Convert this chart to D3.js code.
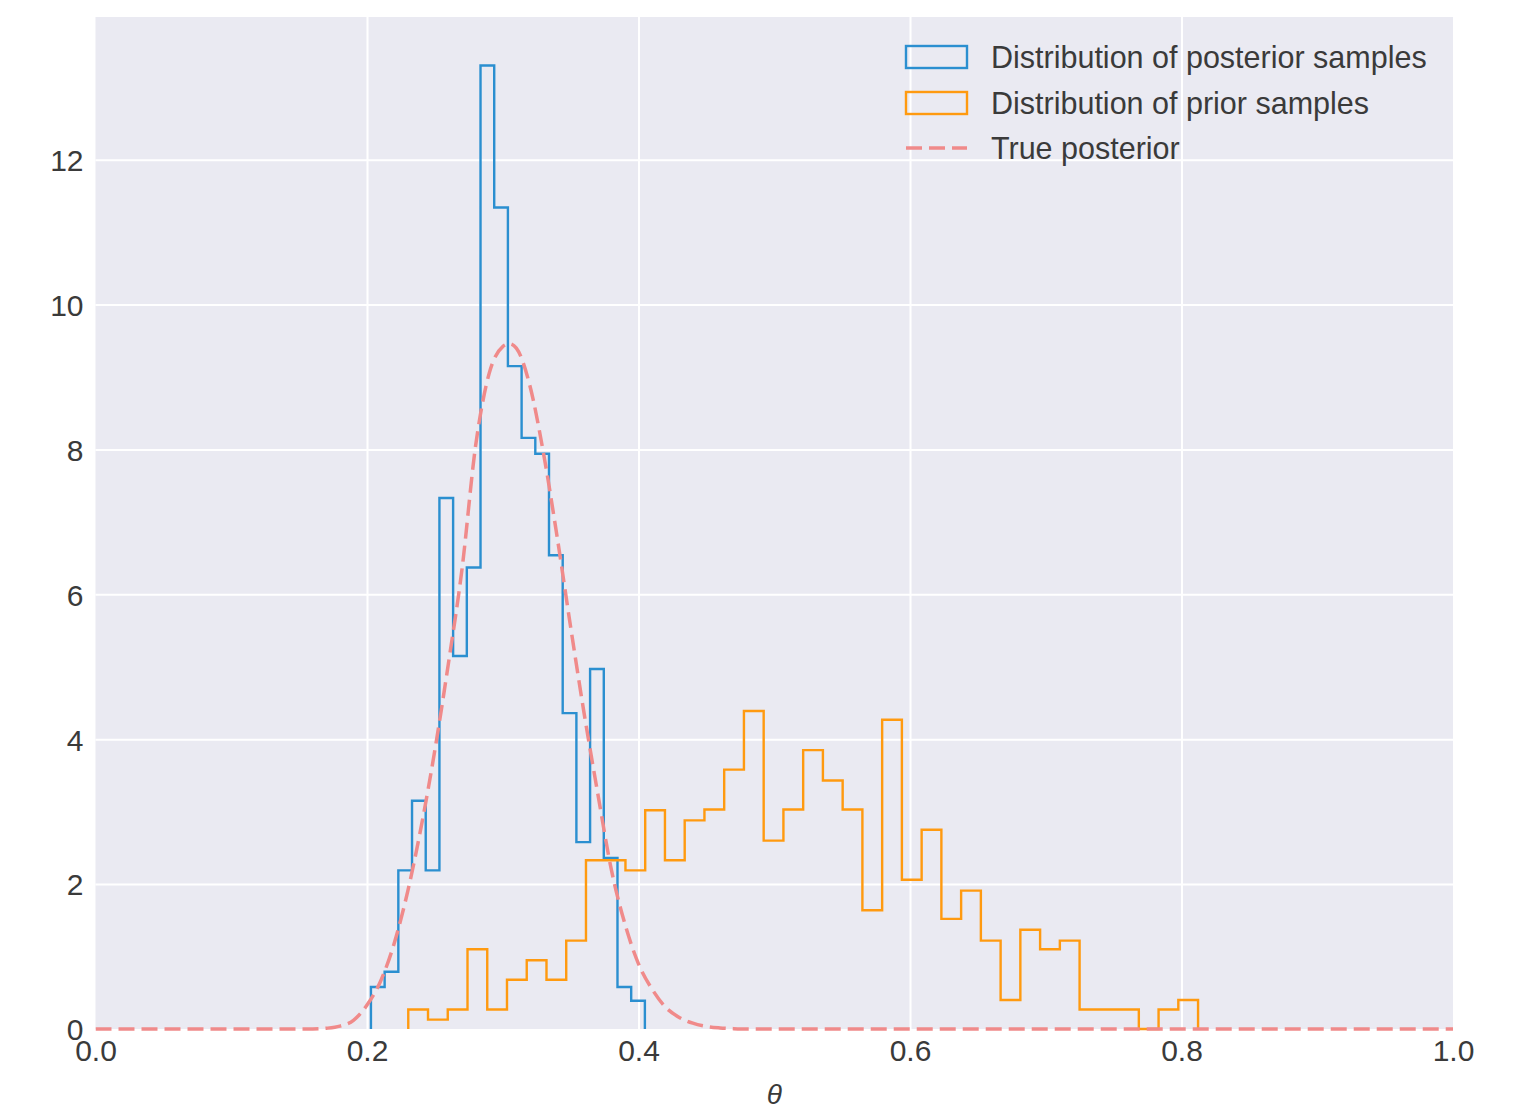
<!DOCTYPE html>
<html>
<head>
<meta charset="utf-8">
<script src="https://cdn.jsdelivr.net/npm/d3@7"></script>
<style>
  html, body { margin: 0; padding: 0; background: #ffffff; }
  svg { display: block; }
  text { font-family: "Liberation Sans", Arial, sans-serif; }
</style>
</head>
<body>
<script>
// Posterior sample histogram (density), 20 equal bins
const posteriorRange = [0.2029, 0.4047];
const posteriorDensity = [0.58, 0.79, 2.19, 3.15, 2.19, 7.33, 5.15, 6.37, 13.30, 11.34,
                          9.15, 8.16, 7.94, 6.54, 4.36, 2.58, 4.97, 2.36, 0.58, 0.39];

// Prior sample histogram (density), 40 equal bins
const priorRange = [0.2304, 0.8122];
const priorDensity = [0.27, 0.13, 0.27, 1.10, 0.27, 0.68, 0.95, 0.68, 1.22, 2.33,
                      2.33, 2.19, 3.02, 2.33, 2.88, 3.03, 3.58, 4.39, 2.60, 3.03,
                      3.85, 3.43, 3.03, 1.64, 4.27, 2.06, 2.75, 1.52, 1.91, 1.22,
                      0.40, 1.37, 1.10, 1.22, 0.27, 0.27, 0.27, 0.00, 0.27, 0.40];

// True posterior density curve
const trueTheta = [0.000, 0.160, 0.170, 0.180, 0.190, 0.200, 0.210, 0.220, 0.230, 0.240,
                   0.250, 0.260, 0.270, 0.280, 0.290, 0.300, 0.305, 0.310, 0.320, 0.330,
                   0.340, 0.350, 0.360, 0.370, 0.380, 0.390, 0.400, 0.410, 0.420, 0.430,
                   0.440, 0.450, 0.460, 0.470, 0.480, 1.000];
const trueDensity = [0.00, 0.00, 0.01, 0.04, 0.12, 0.33, 0.66, 1.18, 1.90, 2.80,
                     3.85, 5.05, 6.35, 8.05, 9.05, 9.42, 9.46, 9.40, 8.88, 7.95,
                     6.80, 5.55, 4.35, 3.25, 2.20, 1.45, 0.90, 0.55, 0.30, 0.16,
                     0.08, 0.035, 0.015, 0.005, 0.00, 0.00];

const xTicks = [0.0, 0.2, 0.4, 0.6, 0.8, 1.0];
const yTicks = [0, 2, 4, 6, 8, 10, 12];
const legendLabels = ["Distribution of posterior samples", "Distribution of prior samples", "True posterior"];

const colors = { posterior: "#2b8fd0", prior: "#ff9a10", truth: "#f08a8a" };

const W = 1516, H = 1109;
const plot = { left: 95.5, right: 1453, top: 17, bottom: 1029 };
const fontSize = 30;

const svg = d3.select("body").append("svg").attr("width", W).attr("height", H);

const x = d3.scaleLinear().domain([0, 1]).range([plot.left, plot.right]);
const y = d3.scaleLinear().domain([0, 13.97]).range([plot.bottom, plot.top]);

// background
svg.append("rect")
  .attr("x", plot.left).attr("y", plot.top)
  .attr("width", plot.right - plot.left).attr("height", plot.bottom - plot.top)
  .attr("fill", "#eaeaf2");

// grid via axes
const gx = svg.append("g").attr("transform", `translate(0,${plot.bottom})`)
  .call(d3.axisBottom(x).tickValues(xTicks).tickSize(-(plot.bottom - plot.top)).tickFormat(d3.format(".1f")).tickPadding(12));
const gy = svg.append("g").attr("transform", `translate(${plot.left},0)`)
  .call(d3.axisLeft(y).tickValues(yTicks).tickSize(-(plot.right - plot.left)).tickFormat(d3.format("d")).tickPadding(12));
[gx, gy].forEach(g => {
  g.select(".domain").remove();
  g.selectAll(".tick line").attr("stroke", "#ffffff").attr("stroke-width", 2);
  g.selectAll(".tick text").attr("fill", "#3a3a3a").attr("font-size", fontSize)
    .attr("font-family", "'Liberation Sans', Arial, sans-serif");
});
// edge gridlines coincide with the frame
gx.selectAll(".tick").filter(d => d === 0 || d === 1).select("line").remove();
gy.selectAll(".tick").filter(d => d === 0).select("line").remove();
gx.selectAll(".tick text").attr("dy", "0.68em");
gy.selectAll(".tick text").attr("dy", "0.36em");

// step outline of a histogram
function stepPath(range, values) {
  const n = values.length;
  const edges = d3.range(n + 1).map(i => range[0] + i * (range[1] - range[0]) / n);
  const pts = [[edges[0], 0]];
  values.forEach((v, i) => { pts.push([edges[i], v]); pts.push([edges[i + 1], v]); });
  pts.push([edges[n], 0]);
  return d3.line().x(d => x(d[0])).y(d => y(d[1]))(pts);
}

svg.append("clipPath").attr("id", "plotclip").append("rect")
  .attr("x", plot.left).attr("y", plot.top)
  .attr("width", plot.right - plot.left).attr("height", plot.bottom - plot.top + 2);

const marks = svg.append("g").attr("clip-path", "url(#plotclip)");

marks.append("path").attr("d", stepPath(posteriorRange, posteriorDensity))
  .attr("fill", "none").attr("stroke", colors.posterior).attr("stroke-width", 2.4)
  .attr("stroke-linejoin", "miter");

marks.append("path").attr("d", stepPath(priorRange, priorDensity))
  .attr("fill", "none").attr("stroke", colors.prior).attr("stroke-width", 2.4)
  .attr("stroke-linejoin", "miter");

const truePts = trueTheta.map((t, i) => [t, trueDensity[i]]);
marks.append("path")
  .attr("d", d3.line().x(d => x(d[0])).y(d => y(d[1])).curve(d3.curveMonotoneX)(truePts))
  .attr("fill", "none").attr("stroke", colors.truth).attr("stroke-width", 3.5)
  .attr("stroke-dasharray", "16,7");

// x label
svg.append("text").attr("x", (plot.left + plot.right) / 2).attr("y", 1094)
  .attr("text-anchor", "middle").attr("dy", "0.36em")
  .attr("font-family", "'DejaVu Sans', sans-serif").attr("font-style", "italic")
  .attr("font-size", 28).attr("fill", "#3a3a3a").text("θ");

// legend
const lg = svg.append("g");
const rowY = [57, 103, 148];
const legendKeys = ["posterior", "prior", "truth"];
legendKeys.forEach((k, i) => {
  if (k === "truth") {
    lg.append("line").attr("x1", 906).attr("x2", 967).attr("y1", rowY[i]).attr("y2", rowY[i])
      .attr("stroke", colors.truth).attr("stroke-width", 3.5).attr("stroke-dasharray", "16,7");
  } else {
    lg.append("rect").attr("x", 906).attr("y", rowY[i] - 11).attr("width", 61).attr("height", 22)
      .attr("fill", "none").attr("stroke", colors[k]).attr("stroke-width", 2.4);
  }
  lg.append("text").attr("x", 991).attr("y", rowY[i]).attr("dy", "0.36em")
    .attr("font-size", fontSize + 0.5).attr("fill", "#3a3a3a").text(legendLabels[i]);
});
</script>
</body>
</html>
